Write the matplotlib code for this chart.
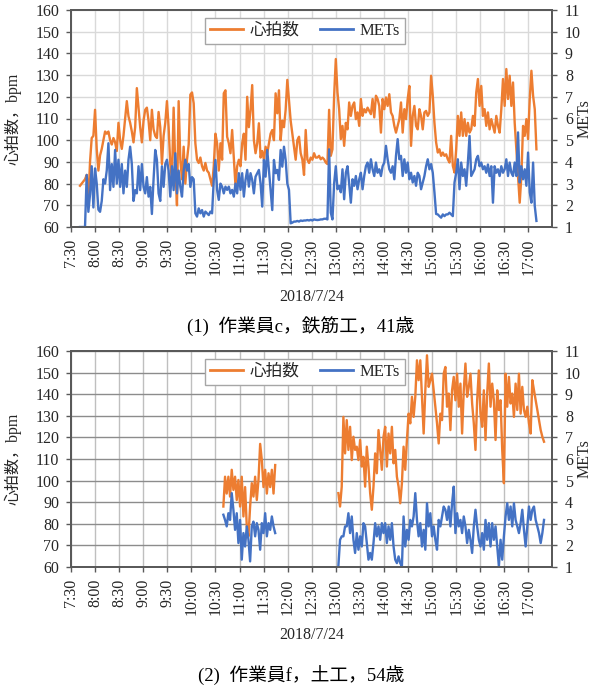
import pandas as pd
import matplotlib
matplotlib.use("Agg")
import matplotlib.pyplot as plt
import matplotlib.dates as mdates
from matplotlib.ticker import FixedLocator, FuncFormatter
from matplotlib.lines import Line2D

plt.rcParams['font.family'] = ['Liberation Serif', 'Noto Sans CJK JP']
plt.rcParams['axes.unicode_minus'] = False

# ---------------- data ----------------
DATE = "2018-07-24"
SAMPLE_SEC = 125            # sampling interval of the logged series

# worker c (rebar worker, 41)
c_start = "07:41:13"
hr_c = [79, 80, 81, 82, 84, 72, 90, 101, 102, 114, 96, 86, 93, 96, 100, 104, 103, 104, 100, 98,
        101, 99, 95, 108, 100, 96, 102, 110, 118, 111, 108, 104, 99, 106, 124, 115, 106, 99, 109, 114,
        115, 109, 100, 114, 105, 102, 101, 113, 106, 89, 102, 108, 118, 106, 89, 83, 115, 88, 70, 118,
        91, 82, 97, 80, 91, 98, 121, 122, 117,
        98.6, 91, 89.5, 92, 88, 86, 89.5, 86, 85, 82, 79, 88, 103, 98.6, 86, 98.6, 91, 121.6, 123, 101.6,
        98.6, 94, 104.7, 92, 79, 88, 91, 88, 98.6, 103, 91, 120, 106, 114, 125.4, 100, 94, 98.6, 107.8, 92,
        95, 91, 97, 94, 98.6, 103, 104.7, 100, 121.6, 112.4, 123, 100, 109, 106, 114, 127.8, 118.5, 109, 103, 97,
        91, 100, 101.6, 94, 91, 84, 104.7, 91, 89.5, 92, 91, 94, 92,
        92, 92.8, 91.2, 92, 91.2, 89.7, 89, 114, 92.8, 95.8, 120.5, 137.4, 122, 114.3, 100.5, 106.6, 97.4, 108, 105, 117.4,
        111.2, 115.8, 117.4, 109.7, 112.8, 106.6, 119, 111.2, 114.3, 112.8, 115, 113.5, 112, 119, 110.5, 120.5, 119, 115.8, 103.5, 119,
        114.3, 119.7, 115.8, 121.2, 112.8, 111.2, 106.6, 103.5, 106.6, 109.7, 117.4, 103.5, 114.3, 109.7, 119, 125, 97.4, 111.2, 115.8, 106.6,
        105, 114.3, 111.2, 105, 112.8, 113.5, 111.2, 112.8, 129.7, 120.5, 108, 99,
        94.3, 95.8, 92.8, 94.3, 92.8, 93.5, 91.2, 89.7, 102, 88.2, 85.1, 95.8, 111.2, 102, 112.8, 102, 109.7, 102, 108, 103.5,
        105, 111.2, 106.6, 122, 128.2, 115.8, 125, 111.2, 114.3, 106.6, 112.8, 105, 109.7, 106.6, 103.5, 111.2, 106.6, 103.5, 114.3, 128.2,
        115.8, 132.8, 119, 129.7, 115.8, 126.6, 108, 95.8, 83.5, 71.2, 83.5, 106.6, 102, 109.7, 100.5, 119, 132, 120.5, 114.3, 95.8]
mets_c = [1.0, 1.0, 1.0, 1.0, 3.4, 1.7, 2.5, 3.8, 1.9, 3.7, 3.0, 1.8, 1.7, 2.2, 3.2, 3.0, 3.6, 4.86, 2.7, 3.9,
          2.85, 4.55, 3.0, 4.1, 2.85, 3.9, 2.55, 3.6, 2.85, 4.1, 4.7, 3.9, 2.2, 2.7, 2.55, 3.8, 2.7, 3.9, 2.85, 2.55,
          3.3, 2.4, 2.85, 1.6, 3.2, 4.55, 4.1, 2.55, 2.2, 3.8, 2.85, 3.9, 4.1, 3.6, 2.4, 3.8, 2.7, 4.4, 2.55, 3.6,
          2.85, 2.4, 3.6, 4.1, 3.6, 3.9, 2.85, 3.3, 3.2,
          1.63, 1.48, 1.86, 1.63, 1.78, 1.48, 1.71, 1.63, 1.55, 1.71, 1.63, 3.17, 4.09, 2.71, 2.25, 3.0, 2.86, 2.55, 2.86, 2.71,
          2.86, 2.55, 2.71, 2.4, 3.0, 2.55, 3.48, 2.71, 3.48, 2.4, 3.17, 3.63, 2.86, 3.48, 3.17, 2.55, 3.32, 3.48, 3.63, 3.0,
          1.94, 4.09, 3.32, 4.55, 3.63, 2.71, 1.78, 4.09, 3.48, 3.63, 3.17, 4.55, 3.78, 4.7, 4.09, 3.0, 2.71, 1.17, 1.2,
          1.25, 1.25, 1.28, 1.25, 1.3, 1.28, 1.3, 1.3, 1.32, 1.3, 1.33, 1.3, 1.35, 1.33,
          1.32, 1.33, 1.35, 1.35, 1.38, 1.38, 1.35, 4.58, 1.66, 1.35, 3.0, 3.8, 2.74, 2.9, 2.6, 3.66, 2.28, 3.5, 3.8, 3.0,
          2.12, 3.2, 2.9, 3.35, 2.74, 3.2, 3.5, 2.74, 3.35, 3.8, 3.97, 3.5, 4.12, 3.66, 3.35, 3.97, 3.5, 3.66, 3.35, 3.8,
          3.97, 4.74, 4.12, 3.66, 3.5, 3.8, 3.2, 4.28, 5.05, 4.12, 4.28, 3.35, 4.12, 3.5, 3.97, 3.2, 3.5, 3.05, 3.35, 2.9,
          3.5, 3.35, 2.74, 3.05, 3.35, 3.8, 4.12, 3.66, 3.9, 3.5, 2.6, 1.6,
          1.58, 1.5, 1.43, 1.58, 1.5, 1.58, 1.58, 1.66, 1.58, 1.5, 3.05, 3.5, 4.12, 2.74, 3.97, 3.35, 3.66, 2.9, 3.97, 5.2,
          3.35, 3.5, 3.66, 4.12, 4.28, 3.8, 3.97, 3.66, 3.8, 3.5, 3.88, 3.35, 3.8, 2.12, 3.8, 3.5, 3.66, 3.35, 3.8, 3.5,
          3.66, 4.12, 3.35, 3.97, 3.5, 3.35, 3.97, 3.35, 5.36, 3.05, 3.8, 3.2, 3.66, 2.9, 4.43, 2.6, 2.12, 3.97, 1.97, 1.28]

# worker f (earthwork, 54)
f_am_start = "10:39:52"
hr_f_am = [88, 101.8, 94, 101.8, 92.6, 105, 95.7, 101.8, 91, 100.3, 88, 101.8, 83.4, 97, 78.8, 74.2,
           88, 98.8, 92.6, 101.8, 91, 100.3, 117, 109.5, 97, 105, 94, 103.4, 97, 105, 94, 107.2]
mets_f_am = [3.42, 3.18, 2.88, 3.49, 3.18, 4.42, 3.65, 2.72, 3.49, 2.11, 3.18, 1.34, 2.57, 1.95, 2.88, 2.26,
             1.26, 2.88, 3.1, 2.42, 3.03, 2.72, 1.8, 3.03, 2.57, 3.49, 2.42, 3.03, 2.72, 3.34, 2.88, 2.57]
f_pm_start = "13:03:11"
hr_f_pm = [94.2, 88, 97.2, 129.5, 112.6, 128, 114.2, 124.9, 109.5, 120.3, 114.2, 115.7, 109.5, 118.8, 106.5, 111,
           97.2, 115.7, 106.5, 94.2, 86.5, 97.2, 112.6, 103.4, 123.4, 114.2, 105, 120.3, 124.9, 106.5, 121.8, 112.6,
           124.9, 108, 114.2, 101.8, 97.2, 89.5, 98.8, 115.7, 105, 118.8, 131, 126.5, 138.8, 129.5, 138.8, 155.7,
           146.5, 155.7, 138.8, 121.8, 141.8, 158, 143.4, 146.5, 149.5, 141.8, 134.2, 126.5, 117.2, 131,
           128, 149.5, 152.6, 134.2, 140.3, 123.4, 141.8, 148, 137.2, 149.5, 134.2, 144.9, 121.8, 141.8, 154.2, 138.8,
           143.4, 149.5, 135.7, 126.5, 114.2, 137.2, 151, 131, 124.9, 141.8, 118.8, 140.3, 154.2, 134.2, 144.9, 137.2,
           118.8, 141.8, 132.7, 137.2, 114.2, 98.8, 149.5, 134.2, 148, 135.7, 140.3, 129.5, 144.9, 132.7, 149.5, 131,
           143.4, 132.7, 129.5, 134.2, 126.5, 121.8, 146.5, 141.8, 137.2, 132.7, 128, 123.4, 120.3, 118]
mets_f_pm = [1.05, 2.26, 2.42, 2.42, 2.88, 2.88, 3.49, 2.57, 3.34, 2.26, 1.65, 2.57, 1.8, 2.42, 1.95, 3.03,
             2.88, 2.11, 1.34, 1.65, 1.34, 2.11, 3.03, 2.42, 2.88, 2.26, 3.03, 2.57, 3.03, 2.11, 2.88, 2.26,
             3.03, 1.95, 1.34, 1.18, 1.49, 1.18, 1.03, 3.34, 1.95, 2.72, 2.26, 3.18, 2.88, 3.34, 4.42, 3.18,
             2.42, 3.03, 1.95, 2.72, 1.8, 3.95, 2.88, 3.49, 2.42, 2.88, 2.26, 1.8, 3.18, 2.88,
             3.34, 3.8, 3.65, 3.18, 3.8, 2.88, 3.95, 4.72, 2.57, 3.49, 2.88, 3.18, 2.57, 3.34, 2.88, 2.11,
             2.72, 2.26, 1.65, 2.88, 3.65, 2.88, 2.26, 1.95, 2.57, 1.8, 3.18, 2.26, 3.03, 1.95, 3.03, 2.26,
             2.88, 1.95, 1.03, 2.26, 1.34, 2.42, 3.34, 3.95, 3.18, 3.8, 2.88, 3.95, 3.18, 2.88, 2.57, 3.03,
             3.65, 2.72, 1.95, 2.88, 3.8, 3.18, 3.65, 3.8, 3.18, 2.88, 2.57, 2.11, 2.57, 3.18]

series_names = ["心拍数", "METs"]
captions = ["(1)  作業員c，鉄筋工，41歳", "(2)  作業員f，土工，54歳"]
x_title = "2018/7/24"
y_left_title = "心拍数，bpm"
y_right_title = "METs"
x_first_tick, x_last_tick, x_end = "07:30", "17:00", "17:29"
hr_ticks = list(range(60, 161, 10))
mets_ticks = list(range(1, 12))

# ---------------- styling ----------------
ORANGE = "#ED7D31"
BLUE = "#4472C4"
SPINE = "#595959"
FS = 11.5


def times(start, n):
    return pd.date_range(f"{DATE} {start}", periods=n, freq=f"{SAMPLE_SEC}s")


def fmt_time(x, pos=None):
    d = mdates.num2date(x)
    return f"{d.hour}:{d.minute:02d}"


fig = plt.figure(figsize=(6.02, 6.90), dpi=100)

panels = [
    dict(rect=[71 / 602, 1 - 227 / 690, 480.7 / 602, 217 / 690],
         segs=[(c_start, hr_c, mets_c)],
         hgrid="#D9D9D9", vgrid="#D9D9D9",
         xlab_y=1 - 297 / 690, cap_y=1 - 326 / 690),
    dict(rect=[71 / 602, 1 - 567 / 690, 480.7 / 602, 216 / 690],
         segs=[(f_am_start, hr_f_am, mets_f_am), (f_pm_start, hr_f_pm, mets_f_pm)],
         hgrid="#8C8C8C", vgrid="#BFBFBF",
         xlab_y=1 - 635 / 690, cap_y=1 - 676 / 690),
]

tick_times = pd.date_range(f"{DATE} {x_first_tick}", f"{DATE} {x_last_tick}", freq="30min")
xmin = mdates.date2num(pd.Timestamp(f"{DATE} {x_first_tick}"))
xmax = mdates.date2num(pd.Timestamp(f"{DATE} {x_end}"))

for p, cap in zip(panels, captions):
    ax = fig.add_axes(p["rect"])
    ax2 = ax.twinx()
    for start, hr, mets in p["segs"]:
        ax.plot(times(start, len(hr)), hr, color=ORANGE, lw=1.7, solid_joinstyle="round")
        ax2.plot(times(start, len(mets)), mets, color=BLUE, lw=1.7, solid_joinstyle="round")

    ax.set_xlim(xmin, xmax)
    ax.set_ylim(hr_ticks[0], hr_ticks[-1])
    ax2.set_ylim(mets_ticks[0], mets_ticks[-1])
    ax.yaxis.set_major_locator(FixedLocator(hr_ticks))
    ax2.yaxis.set_major_locator(FixedLocator(mets_ticks))
    ax.xaxis.set_major_locator(FixedLocator(mdates.date2num(tick_times)))
    ax.xaxis.set_major_formatter(FuncFormatter(fmt_time))

    ax.set_axisbelow(True)
    ax.grid(True, axis="y", color=p["hgrid"], lw=1.0)
    ax.grid(True, axis="x", color=p["vgrid"], lw=1.0)

    for a in (ax, ax2):
        for s in a.spines.values():
            s.set_color(SPINE)
            s.set_linewidth(1.3)
    ax.tick_params(axis="both", direction="out", length=3.5, width=1, color=SPINE,
                   labelsize=FS, labelcolor="#262626")
    ax.tick_params(axis="y", pad=5)
    ax.tick_params(axis="x", pad=5, labelrotation=90)
    ax2.tick_params(axis="y", direction="out", length=3.5, width=1, color=SPINE,
                    labelsize=FS, labelcolor="#262626", pad=6)

    ax.set_ylabel(y_left_title, fontsize=FS, color="#262626")
    ax.yaxis.set_label_coords(-0.102, 0.5)
    ax2.set_ylabel(y_right_title, fontsize=FS, color="#262626", va="center")
    ax2.yaxis.set_label_coords(1.068, 0.5)

    handles = [Line2D([], [], color=ORANGE, lw=2), Line2D([], [], color=BLUE, lw=2)]
    leg = ax2.legend(handles, series_names, ncol=2, loc="upper center",
                     bbox_to_anchor=(0.487, 0.965), borderaxespad=0, frameon=True,
                     fancybox=False, edgecolor="#A6A6A6", framealpha=1, fontsize=12,
                     handlelength=2.0, handletextpad=0.4, columnspacing=1.2, borderpad=0.3)
    leg.get_frame().set_linewidth(1.0)
    for txt in leg.get_texts():
        txt.set_color("#262626")

    fig.text(0.5173, p["xlab_y"], x_title, ha="center", va="center", fontsize=FS, color="#262626")
    fig.text(0.50, p["cap_y"], cap, ha="center", va="center", fontsize=13.5, color="#000000")

fig.savefig("out.png", dpi=100)
